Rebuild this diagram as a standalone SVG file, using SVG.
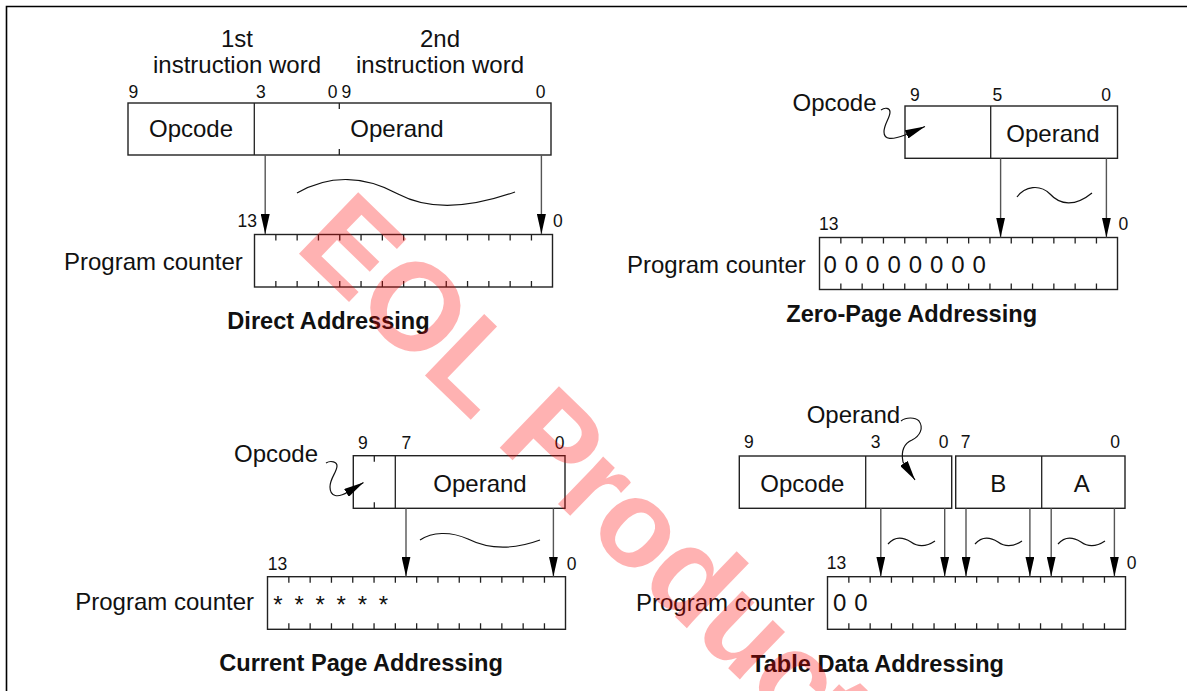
<svg xmlns="http://www.w3.org/2000/svg" width="1187" height="691" viewBox="0 0 1187 691">
<style>
text{font-family:"Liberation Sans",Arial,Helvetica,sans-serif;fill:#111}
.lbl{font-size:24px}
.num{font-size:17.5px}
.ttl{font-size:23.6px;font-weight:bold;text-anchor:middle}
.mid{text-anchor:middle}
.end{text-anchor:end}
.box{fill:#fff;stroke:#222;stroke-width:1.4}
.ln{stroke:#222;stroke-width:1.3;fill:none}
.tick{stroke:#222;stroke-width:6;stroke-dasharray:1.3 20;fill:none}
.conn{stroke:#555;stroke-width:1.4;fill:none;marker-end:url(#ah)}
.sq{stroke:#111;stroke-width:1.2;fill:none;marker-end:url(#ah)}
.wave{stroke:#111;stroke-width:1.2;fill:none}
.wm{font-size:124px;font-weight:bold;fill:#ff0000;fill-opacity:0.3;letter-spacing:-2px}
</style>
<defs>
<marker id="ah" markerUnits="userSpaceOnUse" markerWidth="20" markerHeight="9" refX="20" refY="4.5" orient="auto" viewBox="0 0 20 9">
<path d="M0,0 L20,4.5 L0,9 z" fill="#000"/>
</marker>
</defs>
<rect width="1187" height="691" fill="#fff"/>
<path d="M6.5,691 V6.5 H1187" fill="none" stroke="#000" stroke-width="1.6"/>

<g id="direct">
<text class="lbl mid" x="237" y="46.5">1st</text>
<text class="lbl mid" x="237" y="73">instruction word</text>
<text class="lbl mid" x="440" y="46.5">2nd</text>
<text class="lbl mid" x="440" y="73">instruction word</text>
<text class="num" x="128.5" y="98">9</text>
<text class="num" x="256" y="98">3</text>
<text class="num end" x="337.5" y="98">0</text>
<text class="num" x="341.5" y="98">9</text>
<text class="num end" x="545.5" y="98">0</text>
<rect class="box" x="128" y="103" width="423" height="52"/>
<path class="ln" d="M254.3,103 V155 M339.3,103 v6 M339.3,149 v6"/>
<text class="lbl mid" x="191" y="137">Opcode</text>
<text class="lbl mid" x="397" y="137">Operand</text>
<path class="wave" d="M297,193 C330,174 365,176 398,194 C430,211 470,208 515,192"/>
<text class="num end" x="257" y="227">13</text>
<text class="num" x="553" y="227">0</text>
<text class="lbl" x="64" y="269.5">Program counter</text>
<rect class="box" x="254.5" y="234.5" width="298" height="52.5"/>
<path class="tick" d="M275.2,237.5 H540 M275.2,284 H540"/>
<text class="ttl" x="328.5" y="329">Direct Addressing</text>
</g>

<g id="zeropage">
<text class="num" x="910" y="100.5">9</text>
<text class="num" x="992.5" y="100.5">5</text>
<text class="num end" x="1111" y="100.5">0</text>
<rect class="box" x="905" y="106" width="212.5" height="52.3"/>
<path class="ln" d="M990.7,106 V158.3"/>
<text class="lbl mid" x="1053" y="141.5">Operand</text>
<text class="lbl" x="792.5" y="110.5">Opcode</text>
<path class="wave" d="M1017,197 C1025,186 1040,184 1050,194 C1060,205 1075,207 1092,193"/>
<text class="num" x="819" y="229.5">13</text>
<text class="num" x="1118.5" y="229.5">0</text>
<text class="lbl" x="627" y="272.5">Program counter</text>
<rect class="box" x="819.5" y="237.5" width="298" height="52"/>
<path class="tick" d="M840.2,240.5 H1105 M840.2,286.5 H1105"/>
<text class="lbl" x="823.5" y="272.5" letter-spacing="0.64">0 0 0 0 0 0 0 0</text>
<text class="ttl" x="911.7" y="321.7">Zero-Page Addressing</text>
</g>

<g id="currentpage">
<text class="num" x="358" y="449.3">9</text>
<text class="num" x="401.5" y="449.3">7</text>
<text class="num end" x="564.5" y="449.3">0</text>
<rect class="box" x="353.3" y="455.7" width="211.7" height="52.6"/>
<path class="ln" d="M395.3,455.7 V508.3 M374.3,455.7 v6 M374.3,502.3 v6"/>
<text class="lbl mid" x="480" y="491.7">Operand</text>
<text class="lbl" x="234" y="461.7">Opcode</text>
<path class="wave" d="M420,540 C432,532 450,531 468,539 C486,548 510,551 540,540"/>
<text class="num" x="267.7" y="570">13</text>
<text class="num" x="566.7" y="570">0</text>
<text class="lbl end" x="254" y="610">Program counter</text>
<rect class="box" x="267.5" y="576.7" width="298" height="52.6"/>
<path class="tick" d="M288.2,579.7 H555 M288.2,626.3 H555"/>
<text class="lbl" x="273.3" y="613" letter-spacing="2.55" fill="#333">* * * * * *</text>
<text class="ttl" x="361" y="671">Current Page Addressing</text>
</g>

<g id="tabledata">
<text class="lbl" x="806.7" y="422.7">Operand</text>
<text class="num" x="744" y="447.7">9</text>
<text class="num" x="870.7" y="447.7">3</text>
<text class="num end" x="948.5" y="447.7">0</text>
<text class="num" x="960.7" y="447.7">7</text>
<text class="num end" x="1120" y="447.7">0</text>
<rect class="box" x="739.3" y="456" width="212.4" height="52.3"/>
<rect class="box" x="955.7" y="456" width="169.3" height="52.3"/>
<path class="ln" d="M865.7,456 V508.3 M1041.7,456 V508.3"/>
<text class="lbl mid" x="802.3" y="491.7">Opcode</text>
<text class="lbl mid" x="998.3" y="491.7">B</text>
<text class="lbl mid" x="1081.7" y="491.7">A</text>
<path class="wave" d="M888,544 C895,536 903,537 911,542 C918,547 926,547 935,541"/>
<path class="wave" d="M975,544 C982,536 990,537 998,542 C1005,547 1013,547 1022,541"/>
<path class="wave" d="M1058,544 C1065,536 1073,537 1081,542 C1088,547 1096,547 1105,541"/>
<text class="num" x="826.7" y="569.3">13</text>
<text class="num" x="1126.7" y="569.3">0</text>
<text class="lbl" x="636" y="610.5">Program counter</text>
<rect class="box" x="827.5" y="576.7" width="298" height="52.6"/>
<path class="tick" d="M848.2,579.7 H1115 M848.2,626.3 H1115"/>
<text class="lbl" x="833" y="610.5" letter-spacing="0.64">0 0</text>
<text class="ttl" x="877.5" y="672">Table Data Addressing</text>
</g>

<g id="connectors">
<path class="conn" d="M265.2,155 V234"/>
<path class="conn" d="M541.4,155 V234"/>
<path class="conn" d="M1000.6,158.3 V237.5"/>
<path class="conn" d="M1106.4,158.3 V237.5"/>
<path class="conn" d="M406,508.3 V576.5"/>
<path class="conn" d="M553.4,508.3 V576.5"/>
<path class="conn" d="M880.8,508.3 V576.5"/>
<path class="conn" d="M944.7,508.3 V576.5"/>
<path class="conn" d="M966,508.3 V576.5"/>
<path class="conn" d="M1029.9,508.3 V576.5"/>
<path class="conn" d="M1051.2,508.3 V576.5"/>
<path class="conn" d="M1114.4,508.3 V576.5"/>
<path class="sq" d="M881,110 C885,107 890,108 890,112 C890,118 884,124 884,132 C884,140 892,140 905,135 L925,126.5"/>
<path class="sq" d="M326,463 C331,460 337,462 337,466 C337,472 330,478 330,487 C330,497 338,498 348,492 L363.5,482.5"/>
<path class="sq" d="M901,421 C906,417 915,417 919,421 C924,428 920,436 912,440 C903,444 901,452 903,462 L915,480"/>
</g>

<text class="wm" transform="translate(293,248) rotate(44)">EOL Product</text>
</svg>
